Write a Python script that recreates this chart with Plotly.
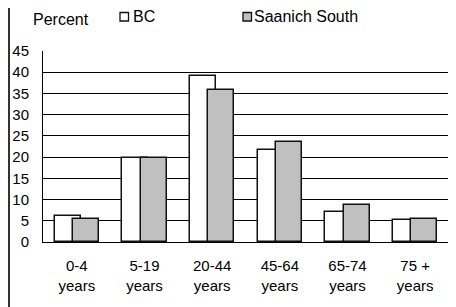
import plotly.graph_objects as go

categories = ["0-4<br>years", "5-19<br>years", "20-44<br>years", "45-64<br>years", "65-74<br>years", "75 +<br>years"]
series_names = ["BC", "Saanich South"]
bc_values = [6.2, 19.9, 39.1, 21.7, 7.1, 5.3]
saanich_values = [5.5, 19.8, 35.8, 23.5, 8.7, 5.4]
y_ticks = [0, 5, 10, 15, 20, 25, 30, 35, 40, 45]
axis_title = "Percent"

# The page body has an 8px default margin, so the figure is sized to fit the
# window and page coordinates below are converted with that offset.
OFF = 8
W, H = 456 - OFF, 307 - OFF
L, T = 43 - OFF, 51 - OFF
PW, PH = 406, 191
R, B = W - L - PW, H - T - PH
FONT = "Liberation Sans, Arial, sans-serif"


def px(x):
    return (x - OFF - L) / PW


def py(y):
    return (H - B - (y - OFF)) / PH


fig = go.Figure()
fig.add_trace(go.Bar(
    x=categories, y=bc_values, name=series_names[0],
    marker=dict(color="white", line=dict(color="#111111", width=1.5)),
    width=0.383, offset=-0.328, showlegend=False,
))
fig.add_trace(go.Bar(
    x=categories, y=saanich_values, name=series_names[1],
    marker=dict(color="#c0c0c0", line=dict(color="#111111", width=1.5)),
    width=0.383, offset=-0.055, showlegend=False,
))

shapes = [
    # outer left frame line
    dict(type="line", xref="paper", yref="paper", x0=px(OFF + 1), x1=px(OFF + 1),
         y0=py(320), y1=py(0), line=dict(color="#333333", width=2)),
    # legend swatches
    dict(type="rect", xref="paper", yref="paper", x0=px(120), x1=px(128.5),
         y0=py(21), y1=py(12.5), fillcolor="white", line=dict(color="#111111", width=1.3)),
    dict(type="rect", xref="paper", yref="paper", x0=px(243), x1=px(251.5),
         y0=py(21), y1=py(12.5), fillcolor="#c0c0c0", line=dict(color="#111111", width=1.3)),
]

annotations = [
    dict(text=axis_title, xref="paper", yref="paper", x=px(31), y=py(19.5),
         xanchor="left", yanchor="middle", showarrow=False,
         font=dict(family=FONT, size=16, color="black")),
    dict(text=series_names[0], xref="paper", yref="paper", x=px(130.5), y=py(17),
         xanchor="left", yanchor="middle", showarrow=False,
         font=dict(family=FONT, size=16, color="black")),
    dict(text=series_names[1], xref="paper", yref="paper", x=px(252), y=py(17),
         xanchor="left", yanchor="middle", showarrow=False,
         font=dict(family=FONT, size=16, color="black")),
]

fig.update_layout(
    width=W, height=H,
    margin=dict(l=L, r=R, t=T, b=B, pad=0, autoexpand=False),
    paper_bgcolor="white", plot_bgcolor="white",
    barmode="overlay", bargap=0,
    font=dict(family=FONT, size=15, color="black"),
    shapes=shapes, annotations=annotations,
    showlegend=False,
)
fig.update_xaxes(
    automargin=False,
    showline=True, linecolor="black", linewidth=1,
    showgrid=False, ticks="outside", ticklen=10, tickcolor="rgba(0,0,0,0)",
    tickfont=dict(family=FONT, size=15, color="black"),
    range=[-0.5, 5.5], fixedrange=True,
)
fig.update_yaxes(
    automargin=False,
    range=[0, 45], tickvals=y_ticks, ticktext=[str(v) for v in y_ticks],
    showgrid=True, gridcolor="black", gridwidth=1,
    zeroline=True, zerolinecolor="black", zerolinewidth=1,
    showline=True, linecolor="black", linewidth=1,
    ticks="outside", ticklen=10, tickcolor="rgba(0,0,0,0)",
    tickfont=dict(family=FONT, size=15, color="black"),
    fixedrange=True,
)

fig.write_html("out.html")
